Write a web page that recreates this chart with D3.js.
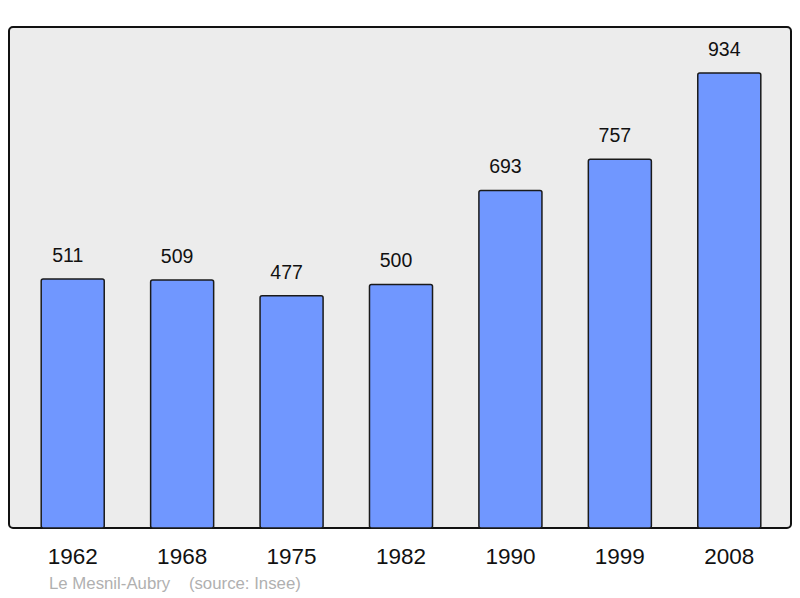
<!DOCTYPE html>
<html>
<head>
<meta charset="utf-8">
<script src="https://cdn.jsdelivr.net/npm/d3@7"></script>
<style>
  body { margin: 0; background: #fff; }
  text { font-family: "Liberation Sans", Arial, sans-serif; }
</style>
</head>
<body>
<script>
// population by census year
const years = ["1962", "1968", "1975", "1982", "1990", "1999", "2008"];
const population = [511, 509, 477, 500, 693, 757, 934];
const commune = "Le Mesnil-Aubry";
const sourceNote = "(source: Insee)";

const width = 800, height = 598;
const frame = { left: 9, top: 27, right: 791, bottom: 528 };

const svg = d3.select("body").append("svg")
    .attr("width", width)
    .attr("height", height);

// background panel
svg.append("rect")
    .attr("x", frame.left)
    .attr("y", frame.top)
    .attr("width", frame.right - frame.left)
    .attr("height", frame.bottom - frame.top)
    .attr("rx", 4)
    .attr("fill", "#ececec")
    .attr("stroke", "#111")
    .attr("stroke-width", 2);

const x = d3.scaleBand()
    .domain(years)
    .range([18, 784])
    .paddingInner(0.424)
    .paddingOuter(0.212);

const y = d3.scaleLinear()
    .domain([0, d3.max(population)])
    .range([frame.bottom, 73]);

const data = years.map((yr, i) => ({ year: yr, value: population[i] }));

svg.selectAll("rect.bar")
    .data(data)
    .enter().append("rect")
    .attr("class", "bar")
    .attr("x", d => x(d.year))
    .attr("y", d => y(d.value))
    .attr("width", x.bandwidth())
    .attr("height", d => y(0) - y(d.value))
    .attr("rx", 2)
    .attr("fill", "#7097ff")
    .attr("stroke", "#1a1a1a")
    .attr("stroke-width", 1.5);

// value labels above bars (sit a little left of bar centre, as in the original)
svg.selectAll("text.value")
    .data(data)
    .enter().append("text")
    .attr("class", "value")
    .attr("x", d => x(d.year) + x.bandwidth() / 2 - 5)
    .attr("y", d => y(d.value) - 17)
    .attr("text-anchor", "middle")
    .style("font-size", "19.5px")
    .attr("fill", "#111")
    .text(d => d.value);

// year axis (no line, no ticks)
const axis = svg.append("g")
    .attr("transform", `translate(0,${frame.bottom})`)
    .call(d3.axisBottom(x).tickSize(0).tickPadding(20));
axis.select(".domain").remove();
axis.selectAll("text")
    .attr("fill", "#111")
    .style("font-family", "'Liberation Sans', Arial, sans-serif")
    .style("font-size", "22.5px");

// footer
svg.append("text")
    .attr("x", 49)
    .attr("y", 589)
    .style("font-size", "16.8px")
    .attr("fill", "#b0b0b0")
    .attr("xml:space", "preserve")
    .text(commune + "    " + sourceNote);
</script>
</body>
</html>
